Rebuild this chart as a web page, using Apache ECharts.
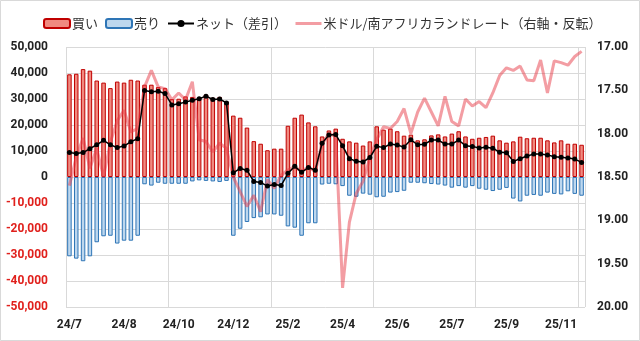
<!DOCTYPE html>
<html><head><meta charset="utf-8">
<script src="https://cdn.jsdelivr.net/npm/echarts@6/dist/echarts.min.js"></script>
<style>html,body{margin:0;padding:0;background:#fff}#c{width:640px;height:341px}</style>
</head><body><div id="c"></div>
<script>
const weeks = [
'2024/07/01','2024/07/08','2024/07/15','2024/07/22','2024/07/29','2024/08/05','2024/08/12','2024/08/19','2024/08/26',
'2024/09/02','2024/09/09','2024/09/16','2024/09/23','2024/09/30','2024/10/07','2024/10/14','2024/10/21','2024/10/28',
'2024/11/04','2024/11/11','2024/11/18','2024/11/25','2024/12/02','2024/12/09','2024/12/16','2024/12/23','2024/12/30',
'2025/01/06','2025/01/13','2025/01/20','2025/01/27','2025/02/03','2025/02/10','2025/02/17','2025/02/24',
'2025/03/03','2025/03/10','2025/03/17','2025/03/24','2025/03/31','2025/04/07','2025/04/14','2025/04/21','2025/04/28',
'2025/05/05','2025/05/12','2025/05/19','2025/05/26','2025/06/02','2025/06/09','2025/06/16','2025/06/23','2025/06/30',
'2025/07/07','2025/07/14','2025/07/21','2025/07/28','2025/08/04','2025/08/11','2025/08/18','2025/08/25',
'2025/09/01','2025/09/08','2025/09/15','2025/09/22','2025/09/29','2025/10/06','2025/10/13','2025/10/20','2025/10/27',
'2025/11/03','2025/11/10','2025/11/17','2025/11/24','2025/12/01','2025/12/08'];

const buy = [39500,39700,41500,40900,37100,36300,34200,36700,36300,37400,37100,35500,35500,34600,34200,30000,30100,31000,30800,30500,
31700,30500,30800,29100,23600,22800,19000,13800,12800,10300,10900,10900,19700,22800,24000,21000,19500,15600,17900,18600,
14700,13700,13200,12100,13700,19500,18200,18600,17600,15900,16300,14100,14500,16000,16400,15600,16700,17600,15600,14700,
15100,15400,15900,14100,13200,13700,15500,14900,15100,15100,14100,13300,14100,12800,12800,12400];

const sell = [-30500,-31400,-32400,-30500,-25100,-22800,-22600,-25600,-24500,-24500,-22600,-2800,-3300,-2200,-2600,-2600,-2600,-2600,-1700,-1300,
-1500,-1700,-1900,-1500,-22600,-19900,-17300,-15800,-15500,-14400,-14400,-14900,-19000,-19500,-22600,-17800,-17800,-2900,-2600,-2800,
-3500,-7200,-7600,-6400,-6800,-7800,-7600,-6000,-5800,-5300,-2200,-2200,-2400,-2700,-2900,-3300,-4100,-3500,-4100,-3500,
-4500,-4900,-5400,-4900,-4200,-8300,-9400,-7200,-6900,-7200,-6000,-6500,-6700,-5500,-6500,-7200];

const net = [9400,9000,9400,10900,12400,14100,12400,11300,11900,13600,14700,33300,32800,33000,32100,27700,28200,28800,29500,30100,
31100,29800,30000,28500,1600,3300,2600,-1700,-2100,-3500,-2900,-3300,1400,4100,1800,3700,2600,13000,16200,16300,
12000,7000,6100,5800,7500,11800,11300,12700,12300,11500,14300,12400,12600,14200,14200,12700,12700,14200,12000,11700,
11200,11400,11100,9500,9300,6000,7000,8100,8800,8800,8500,7800,7600,7300,6900,5600];

const usdzar = [18.60,18.27,18.05,18.40,18.17,18.50,18.10,17.85,17.73,17.98,17.94,17.46,17.27,17.46,17.48,17.61,17.53,17.61,17.40,18.07,
18.09,18.21,18.11,18.17,18.50,18.67,18.84,18.71,18.90,18.53,18.63,18.48,18.42,18.38,18.44,18.38,18.44,18.12,18.00,18.03,
19.78,19.02,18.69,18.55,18.28,18.07,17.92,17.94,17.86,17.71,18.00,17.75,17.59,17.75,17.91,17.57,17.86,17.91,17.60,17.68,
17.63,17.70,17.53,17.33,17.24,17.27,17.22,17.38,17.39,17.15,17.53,17.16,17.18,17.21,17.11,17.05];

const names = ['買い','売り','ネット（差引）','米ドル/南アフリカランドレート（右軸・反転）'];

const chart = echarts.init(document.getElementById('c'), null, {renderer:'canvas'});
const lblFont = {fontFamily:'Roboto', fontWeight:'bold', fontSize:12};
chart.setOption({
  animation:false,
  backgroundColor:'#fff',
  graphic:[{type:'rect', shape:{x:0.5,y:0.5,width:639,height:340}, style:{fill:'none', stroke:'#D9D9D9', lineWidth:1}, silent:true}],
  legend:{
    data:[names[0], names[1], names[2],
      {name:names[3], itemStyle:{color:'rgba(0,0,0,0)', borderColor:'rgba(0,0,0,0)', borderWidth:0},
       lineStyle:{width:3, color:'rgba(232,60,72,0.5)'}}],
    top:12, left:38, itemGap:7, itemWidth:26, itemHeight:9,
    textStyle:{fontFamily:'Noto Sans CJK JP', fontSize:13, color:'#333', padding:[0,0,0,-3]}
  },
  grid:{left:66, right:55, top:47, bottom:34, containLabel:false},
  xAxis:{
    type:'category', data:weeks, boundaryGap:true,
    axisLine:{show:false}, axisTick:{show:false},
    axisLabel:Object.assign({interval:7, margin:12, color:'#222',
      formatter:function(v){const p=v.split('/');return p[0].slice(2)+'/'+parseInt(p[1],10);}}, lblFont),
    splitLine:{show:true, interval:14, lineStyle:{color:'#D9D9D9', width:1}}
  },
  yAxis:[
    {type:'value', min:-50000, max:50000, interval:10000,
     axisLine:{show:false}, axisTick:{show:false},
     axisLabel:Object.assign({margin:18, formatter:function(v){return v.toLocaleString('en-US');},
       color:function(v){return Number(v)<0?'#E0201C':'#222';}}, lblFont),
     splitLine:{show:true, lineStyle:{color:'#D9D9D9', width:1}}},
    {type:'value', min:17, max:20, interval:0.5, inverse:true, position:'right',
     axisLine:{show:false}, axisTick:{show:false}, splitLine:{show:false},
     axisLabel:Object.assign({margin:12, color:'#222', formatter:function(v){return v.toFixed(2);}}, lblFont)}
  ],
  series:[
    {name:names[0], type:'bar', stack:'bs', data:buy, barWidth:'66%',
     itemStyle:{color:'#F08A80', borderColor:'#C00000', borderWidth:1}},
    {name:names[1], type:'bar', stack:'bs', data:sell, barWidth:'66%',
     itemStyle:{color:'#BDD7EE', borderColor:'#2E75B6', borderWidth:1}},
    {name:names[3], type:'line', yAxisIndex:1, data:usdzar, showSymbol:false, symbol:'none',
     lineStyle:{color:'rgba(232,60,72,0.5)', width:3}, itemStyle:{color:'rgba(232,60,72,0.5)'}, z:3},
    {name:names[2], type:'line', data:net, symbol:'circle', symbolSize:5, showAllSymbol:true,
     lineStyle:{color:'#000', width:1.5}, itemStyle:{color:'#000'}, z:4}
  ]
});
</script></body></html>
